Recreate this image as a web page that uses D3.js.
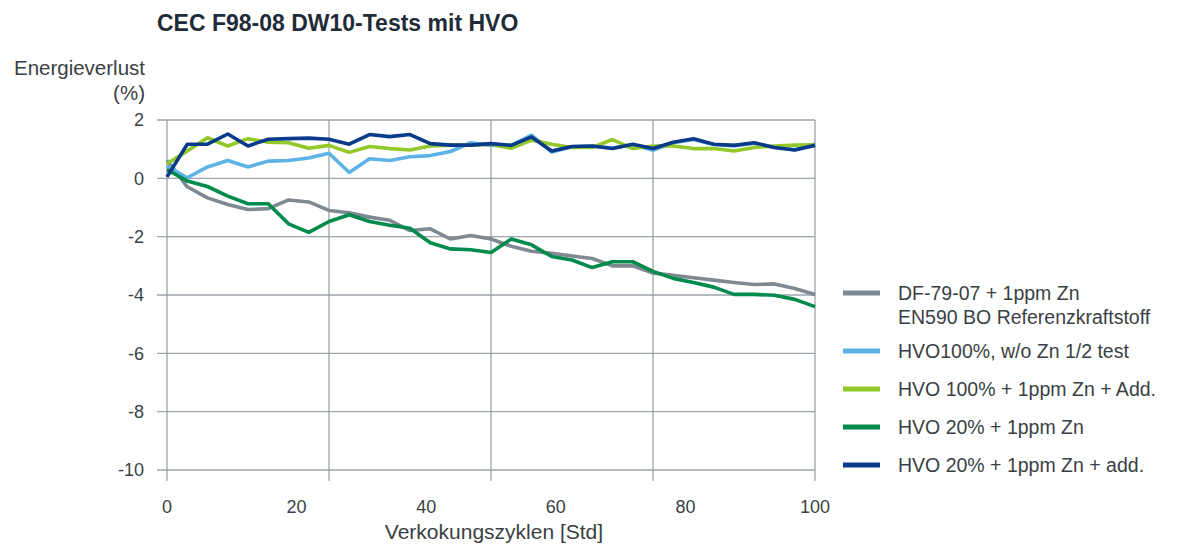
<!DOCTYPE html>
<html lang="de">
<head>
<meta charset="UTF-8">
<title>CEC F98-08 DW10-Tests mit HVO</title>
<style>
  body { margin: 0; background: #fff; }
  svg text { font-family: "Liberation Sans", Arial, sans-serif; fill: #3a3f44; }
  .grid line { stroke: #9ba3ab; stroke-width: 1.3; }
  .series { fill: none; stroke-width: 3.6; stroke-linejoin: round; }
</style>
</head>
<body>
<svg width="1184" height="544"></svg>
<script src="https://cdn.jsdelivr.net/npm/d3@7"></script>
<script>
// Verkokungszyklen (Std), 33 Messpunkte
var cycles = d3.range(33).map(function(i) { return i * 100 / 32; });

var yTicks = [2, 0, -2, -4, -6, -8, -10];
var xTicks = [0, 20, 40, 60, 80, 100];
var xGrid = [0, 25, 50, 75, 100];

var seriesNames = [
    ["DF-79-07 + 1ppm Zn", "EN590 BO Referenzkraftstoff"],
    ["HVO100%, w/o Zn 1/2 test"],
    ["HVO 100% + 1ppm Zn + Add."],
    ["HVO 20% + 1ppm Zn"],
    ["HVO 20% + 1ppm Zn + add."]
];
var seriesColors = ["#7f8992", "#5db3e6", "#92c828", "#008a4b", "#0a3a8a"];

var dfRef = [0.62, -0.29, -0.67, -0.9, -1.07, -1.04, -0.74, -0.81, -1.1, -1.18, -1.33,
    -1.44, -1.79, -1.73, -2.08, -1.96, -2.08, -2.33, -2.5, -2.57, -2.66, -2.75,
    -3.0, -3.0, -3.25, -3.32, -3.41, -3.49, -3.57, -3.64, -3.62, -3.78, -3.98];
var hvo100NoZn = [0.42, 0.02, 0.39, 0.61, 0.39, 0.59, 0.61, 0.7, 0.86, 0.2, 0.67,
    0.61, 0.74, 0.78, 0.92, 1.22, 1.13, 1.13, 1.48, 0.9, 1.08, 1.1, 1.04, 1.15,
    0.96, 1.22, 1.33, 1.16, 1.12, 1.2, 1.06, 0.98, 1.18];
var hvo100Add = [0.5, 0.94, 1.39, 1.11, 1.36, 1.24, 1.22, 1.03, 1.13, 0.89, 1.09,
    1.02, 0.97, 1.11, 1.14, 1.14, 1.17, 1.03, 1.31, 1.17, 1.06, 1.06, 1.33, 1.02,
    1.11, 1.11, 1.02, 1.02, 0.94, 1.06, 1.11, 1.14, 1.15];
var hvo20 = [0.3, -0.09, -0.28, -0.61, -0.87, -0.87, -1.56, -1.85, -1.48, -1.25, -1.48,
    -1.61, -1.71, -2.21, -2.42, -2.45, -2.54, -2.08, -2.28, -2.68, -2.8, -3.06,
    -2.86, -2.86, -3.19, -3.43, -3.57, -3.73, -3.98, -3.98, -4.01, -4.15, -4.4];
var hvo20Add = [0.05, 1.17, 1.17, 1.52, 1.11, 1.34, 1.36, 1.38, 1.34, 1.17, 1.5,
    1.43, 1.5, 1.19, 1.14, 1.14, 1.19, 1.13, 1.42, 0.94, 1.09, 1.11, 1.02, 1.17,
    1.02, 1.24, 1.36, 1.17, 1.13, 1.22, 1.06, 0.97, 1.13];

var seriesValues = [dfRef, hvo100NoZn, hvo100Add, hvo20, hvo20Add];
// draw order: grey, light blue, lime, green, navy on top
var drawOrder = [0, 1, 2, 3, 4];

var svg = d3.select("svg");

var x = d3.scaleLinear().domain([0, 100]).range([167, 815]);
var y = d3.scaleLinear().domain([-10, 2]).range([470, 120]);

// title
svg.append("text")
    .attr("x", 157).attr("y", 31)
    .style("font-size", "23px").style("font-weight", "bold")
    .style("fill", "#1f2b38")
    .text("CEC F98-08 DW10-Tests mit HVO");

// y axis title
svg.append("text").attr("x", 145).attr("y", 75).attr("text-anchor", "end")
    .style("font-size", "20.5px").text("Energieverlust");
svg.append("text").attr("x", 145).attr("y", 100).attr("text-anchor", "end")
    .style("font-size", "20.5px").text("(%)");

// grid
var grid = svg.append("g").attr("class", "grid");
grid.selectAll(".h").data(yTicks).enter().append("line")
    .attr("x1", 157).attr("x2", x(100))
    .attr("y1", function(d) { return y(d); })
    .attr("y2", function(d) { return y(d); });
grid.selectAll(".v").data(xGrid).enter().append("line")
    .attr("x1", function(d) { return x(d); })
    .attr("x2", function(d) { return x(d); })
    .attr("y1", y(2)).attr("y2", y(-10) + 11);

// y tick labels
svg.selectAll(".ylab").data(yTicks).enter().append("text")
    .attr("x", 144).attr("y", function(d) { return y(d); })
    .attr("dy", "0.35em").attr("text-anchor", "end")
    .style("font-size", "18px")
    .text(function(d) { return d; });

// x tick labels
svg.selectAll(".xlab").data(xTicks).enter().append("text")
    .attr("x", function(d) { return x(d); }).attr("y", 513)
    .attr("text-anchor", "middle")
    .style("font-size", "18px")
    .text(function(d) { return d; });

svg.append("text").attr("x", 494).attr("y", 539).attr("text-anchor", "middle")
    .style("font-size", "21px").text("Verkokungszyklen [Std]");

// lines
var line = d3.line()
    .x(function(d, i) { return x(cycles[i]); })
    .y(function(d) { return y(d); });

svg.selectAll(".series").data(drawOrder).enter().append("path")
    .attr("class", "series")
    .attr("stroke", function(k) { return seriesColors[k]; })
    .attr("d", function(k) { return line(seriesValues[k]); });

// legend
var legendY = [293, 351, 389, 427, 465];
var legend = svg.append("g");
seriesNames.forEach(function(names, k) {
    legend.append("line")
        .attr("x1", 843).attr("x2", 880)
        .attr("y1", legendY[k]).attr("y2", legendY[k])
        .attr("stroke", seriesColors[k]).attr("stroke-width", 5);
    names.forEach(function(t, j) {
        legend.append("text")
            .attr("x", 898).attr("y", legendY[k] + j * 24)
            .attr("dy", "0.35em")
            .style("font-size", "19.5px")
            .text(t);
    });
});
</script>
</body>
</html>
